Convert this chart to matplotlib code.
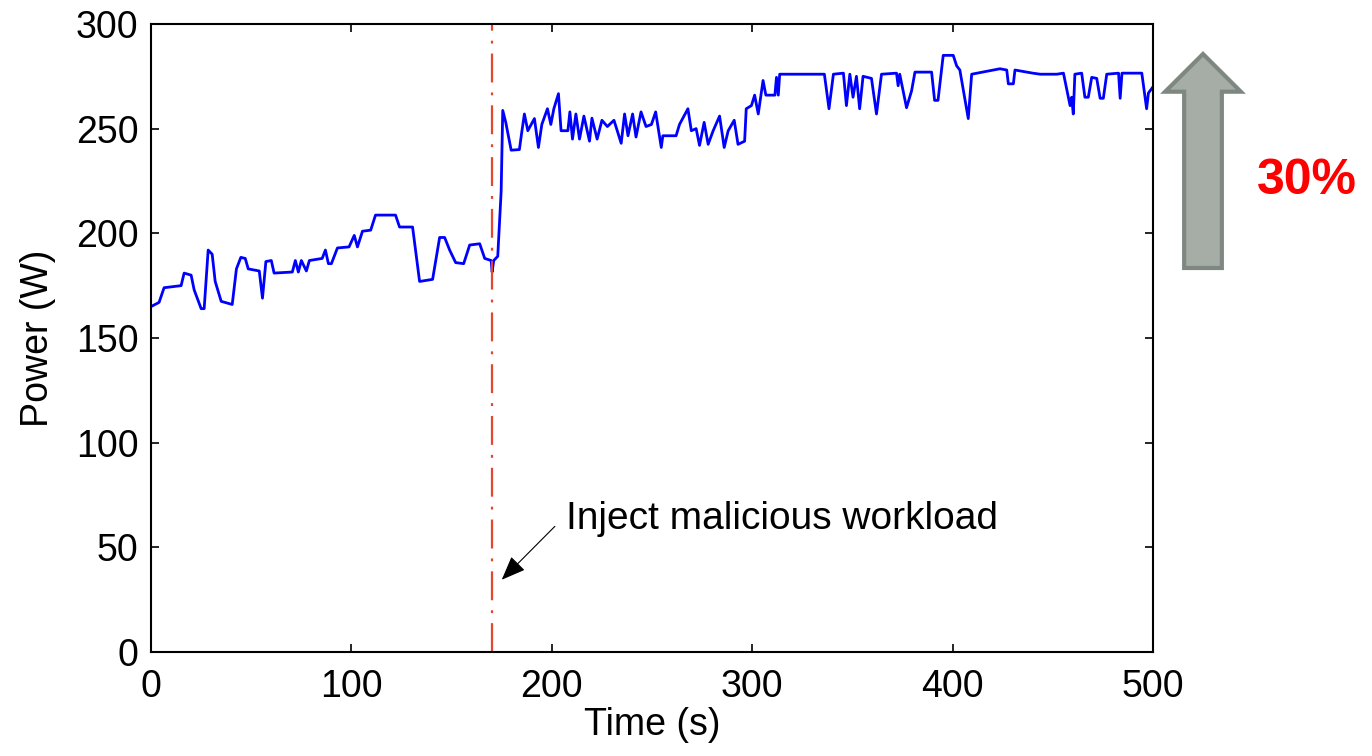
import numpy as np
import matplotlib
matplotlib.use("Agg")
import matplotlib.pyplot as plt
from matplotlib.patches import FancyArrow

plt.rcParams['font.family'] = ['Liberation Sans', 'DejaVu Sans']

# power trace (time in s, power in W)
time_before = [0, 4, 6.5, 15, 16.5, 20, 21.5, 25, 26.5, 28.5, 30.5, 32, 35, 40.5,
               42.6, 44.8, 47, 48.5, 54, 55.6, 57.3, 60, 61.4, 70.5, 72, 73.5, 75,
               77.5, 79, 85.4, 87, 88.5, 90, 93, 98.8, 101.4, 103, 105.5, 109.6,
               112, 122, 124, 130.5, 134, 140.5, 144, 146.5, 149, 152, 156, 159,
               164, 166.5, 169.7, 170.2, 171, 173]
power_before = [165, 167, 174, 175, 181, 180, 173, 164, 164, 192, 190, 177, 167.5, 166,
                183, 188.5, 188, 183, 182, 169, 186.5, 187, 181, 181.5, 187, 181.5, 187,
                182, 187, 188, 192, 185.5, 185.5, 193, 193.5, 199, 193.5, 201, 201.5,
                208.7, 208.7, 203, 203, 177, 178, 198, 198, 192, 186, 185.5, 194.4,
                195, 188, 187, 181.5, 187, 189]

time_mid = [174.7, 175.5, 177, 179.7, 183.8, 185, 186.3, 188, 191.3, 193.3, 195, 197.8,
            199.5, 201, 203.3, 204.6, 208, 209, 210.3, 212, 213.8, 216, 218.8, 220,
            222.6, 225, 227.7, 231, 234.6, 236.3, 238, 240.3, 242, 244.5, 247, 249.7,
            251.8, 254.6, 255.4, 262, 263.7, 267.9, 269.6, 272, 273.7, 276, 278, 280.5,
            283.7, 286, 288, 291, 292.9, 296.2, 297, 299.6, 301.2, 303, 305.4, 306.8,
            311.3, 312.1, 313, 313.7, 335]
power_mid = [220, 258.7, 253, 239.7, 240, 248.4, 257, 249, 254.8, 241, 252, 259.5,
             252, 259.5, 266.7, 249, 249, 258, 245, 257, 245, 256, 244, 255,
             245, 254, 251, 254, 243, 257, 246.6, 257, 246, 258, 251, 252,
             258, 241, 246.6, 246.6, 252, 259.5, 249, 250, 242, 253, 242.5, 249,
             256, 241, 249, 254, 242.5, 244, 259.5, 261, 266, 257, 273, 266,
             266, 274.5, 266, 276, 276]

time_after = [336, 338.3, 340.5, 345.5, 347, 348.7, 350.3, 352, 353.6, 355.3, 359.5,
              362, 364.5, 372, 372.8, 373.6, 377, 379.5, 381.2, 389.5, 391, 392.7,
              395.3, 400.3, 402, 403.6, 407.8, 409.5, 423.6, 427, 427.8, 430.3, 431.1,
              440, 443.7, 452, 455.3, 458.6, 459.4, 460.2, 461, 464.4, 466, 467.7,
              469.4, 471.9, 473.6, 475.2, 476.9, 482.8, 483.6, 484.5, 494.4, 496.8,
              497.7, 500]
power_after = [276, 259.5, 276, 276.5, 261, 276, 265, 275, 259.5, 275, 274,
               257, 276, 276.5, 270.5, 276, 260, 268, 277, 277, 263.5, 263.5,
               285, 285, 280, 278, 254.8, 276, 278.6, 278, 271.4, 271.4, 278,
               276.5, 276, 276, 276.5, 261, 265, 257, 276, 276.5, 265, 265,
               274.5, 274, 264.5, 264.5, 276, 276.5, 264.5, 276.5, 276.5, 259.5,
               267, 270]

time = np.array(time_before + time_mid + time_after)
power = np.array(power_before + power_mid + power_after)

inject_time = 170

fig = plt.figure(figsize=(13.72, 7.56), dpi=100)
ax = fig.add_axes([0.1101, 0.1376, 0.7303, 0.8307])

ax.plot(time, power, color='#0000ff', lw=2.0)
ax.axvline(inject_time, color='#e4472e', lw=1.6, linestyle=(0, (13, 4.5, 1.3, 4.5)))

ax.annotate('', xy=(175, 34.5), xytext=(201.5, 60),
            arrowprops=dict(arrowstyle='-|>,head_length=1.5,head_width=0.6',
                            color='black', lw=0.8, shrinkA=0, shrinkB=0))
ax.text(207, 58.8, 'Inject malicious workload', fontsize=28, va='baseline', ha='left')

ax.set_xlim(0, 500)
ax.set_ylim(0, 300)
ax.set_xticks(range(0, 501, 100))
ax.set_yticks(range(0, 301, 50))
ax.tick_params(direction='in', top=True, right=True, length=6, width=1.2, labelsize=27)
ax.tick_params(axis='x', pad=12)
ax.tick_params(axis='y', pad=9)
for s in ax.spines.values():
    s.set_linewidth(1.5)
ax.set_xlabel('Time (s)', fontsize=27, labelpad=2)
ax.set_ylabel('Power (W)', fontsize=27, labelpad=14)

# big arrow on the right (inches)
arrow = FancyArrow(12.03, 4.88, 0, 2.14, width=0.377, head_width=0.757, head_length=0.377,
                   length_includes_head=True, fc='#a6ada6', ec='#7e8880', lw=3,
                   transform=fig.dpi_scale_trans)
fig.add_artist(arrow)
fig.text(1307 / 1372, 1 - 181 / 756, '30%', color='#ff0000', fontsize=36,
         fontweight='bold', ha='center', va='center')

fig.savefig('out.png', dpi=100)
